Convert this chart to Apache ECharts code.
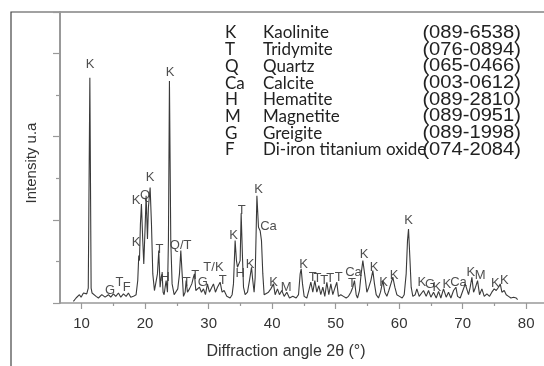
<!DOCTYPE html>
<html><head><meta charset="utf-8">
<script src="https://cdn.jsdelivr.net/npm/echarts@6/dist/echarts.min.js"></script>
<style>html,body{margin:0;padding:0;background:#fff}#c{width:544px;height:366px}</style>
</head><body><div id="c"></div>
<script>
const twoTheta = [8.71,9.13,9.34,9.66,9.92,10.29,10.55,10.81,11.05,11.3,11.5,11.65,11.86,12.28,12.65,13.18,13.70,14.23,14.59,15.01,15.38,15.80,16.17,16.59,17.01,17.37,17.74,18.16,18.58,18.84,19.00,19.11,19.26,19.42,19.63,19.79,20.00,20.16,20.37,20.52,20.79,21.00,21.21,21.47,21.73,21.94,22.15,22.36,22.52,22.68,22.83,22.99,23.15,23.31,23.52,23.67,23.83,24.04,24.25,24.57,24.88,25.14,25.41,25.62,25.83,26.04,26.30,26.46,26.67,26.98,27.35,27.61,27.77,27.98,28.24,28.56,28.87,29.19,29.50,29.81,30.13,30.50,30.76,31.07,31.39,31.81,32.12,32.44,32.86,33.38,33.70,33.91,34.17,34.38,34.54,34.75,34.96,35.12,35.33,35.49,35.75,36.12,36.43,36.75,36.95,37.16,37.32,37.45,37.6,37.85,38.11,38.32,38.53,38.74,39.05,39.42,39.79,40.21,40.47,40.84,41.15,41.52,41.89,42.31,42.73,43.25,43.78,44.15,44.41,44.57,44.78,45.04,45.46,45.77,46.09,46.40,46.72,47.03,47.35,47.66,47.98,48.29,48.61,48.92,49.24,49.55,49.92,50.18,50.44,50.81,51.23,51.65,52.02,52.39,52.70,52.96,53.23,53.44,53.75,54.01,54.28,54.49,54.70,54.91,55.22,55.54,55.85,56.11,56.38,56.74,57.06,57.43,57.74,58.06,58.37,58.69,59.00,59.32,59.63,60.05,60.47,60.79,61.10,61.31,61.47,61.68,61.89,62.15,62.52,62.78,63.15,63.41,63.83,64.25,64.62,64.99,65.41,65.83,66.20,66.56,66.98,67.40,67.77,68.14,68.56,68.93,69.19,69.61,70.03,70.40,70.66,70.92,71.18,71.45,71.71,72.02,72.34,72.65,73.02,73.39,73.81,74.23,74.59,74.96,75.28,75.64,75.91,76.17,76.54,76.85,77.22,77.59,78.01,78.43,78.64];
const intensity = [2,6,4,10,7,12,10,11,18,271,18,12,10,8,6,10,7,10,7,11,8,12,7,11,8,12,7,8,10,27,57,51,95,119,75,47,91,129,77,115,139,95,35,15,13,35,63,19,31,35,13,10,19,27,13,75,267,75,23,10,8,17,35,63,35,8,13,27,13,17,23,31,35,15,13,19,13,17,10,23,13,19,23,13,19,25,13,15,8,6,10,23,75,51,43,41,51,108,55,19,10,13,27,43,27,13,30,75,129,91,87,75,35,10,8,13,17,23,10,17,10,15,8,13,6,8,6,10,35,41,23,8,6,15,25,13,27,13,21,10,19,8,25,10,23,10,19,25,8,10,8,6,8,13,19,27,10,6,15,35,51,49,27,13,19,27,39,23,10,6,13,27,13,8,15,23,31,19,10,8,6,10,35,75,89,55,19,8,10,17,8,9,15,8,15,7,13,6,14,6,17,7,13,6,15,19,8,6,15,23,25,10,19,31,13,19,27,10,17,8,11,8,13,17,15,19,23,13,15,10,8,6,7,6,4];

const peakText = ['K','K','G','T','F','K','K','Q','K','T','H','Q/T','T','T','G','T/K','T','K','H','T','K','K','Ca','K','M','K','T','T','T','T','T','Ca','T','K','K','K','K','K','K','G','K','K','Ca','K','M','K','K'];
const peakX = [11.34,23.94,14.49,15.96,17.11,18.58,18.58,20.0,20.79,22.25,23.15,25.6,26.56,27.87,29.08,30.76,32.23,33.91,34.96,35.22,36.54,37.85,39.42,40.21,42.2,44.93,46.4,47.14,48.19,49.13,50.5,52.81,52.55,54.49,56.06,57.53,59.21,61.47,63.57,64.88,65.93,67.5,69.34,71.29,72.76,75.12,76.54];
const peakY = [287,277,15,25,19,73,123,129,151,65,31,69,25,33,25,43,27,81,35,111,47,137,92,25,19,47,31,30,27,30,31,37,23,59,43,25,33,99,25,22,19,22,25,37,33,23,27];

const legendSymbols = ['K','T','Q','Ca','H','M','G','F'];
const legendNames = ['Kaolinite','Tridymite','Quartz','Calcite','Hematite','Magnetite','Greigite','Di-iron titanium oxide'];
const legendCodes = ['(089-6538)','(076-0894)','(065-0466)','(003-0612)','(089-2810)','(089-0951)','(089-1998)','(074-2084)'];

const xTicks = [10,20,30,40,50,60,70,80];
const xMinorTicks = [15,25,35,45,55,65,75];

const chart = echarts.init(document.getElementById('c'), null, {renderer:'canvas'});
const graphics = [{type:'polyline', z:0, shape:{points:[[11,366],[11,12],[544,12]]}, style:{stroke:'#444', lineWidth:1.2, fill:null}}];
legendSymbols.forEach((s,i)=>{
  const y = 33 + i*16.7;
  graphics.push({type:'text', x:225, y:y, style:{text:s, font:'17px Lato', fill:'#222', textVerticalAlign:'middle', textAlign:'left'}});
  graphics.push({type:'text', x:263, y:y, style:{text:legendNames[i], font:'17px Lato', fill:'#222', textVerticalAlign:'middle', textAlign:'left'}});
  graphics.push({type:'text', x:521, y:y, scaleX:1.12, style:{text:legendCodes[i], font:'18px "Liberation Sans"', fill:'#222', textVerticalAlign:'middle', textAlign:'right'}});
});

chart.setOption({
  animation:false,
  backgroundColor:'#fff',
  grid:{left:60, right:0, top:12, bottom:63},
  xAxis:[{
    type:'value', min:6.6, max:82.8,
    axisLine:{show:true, lineStyle:{color:'#999', width:1.5}},
    axisTick:{show:true, customValues:xTicks, length:6, lineStyle:{color:'#999', width:1.2}},
    axisLabel:{show:true, customValues:xTicks, fontSize:15, color:'#333', margin:13, fontFamily:'Liberation Sans'},
    splitLine:{show:false},
    name:'Diffraction angle 2θ (°)', nameLocation:'middle', nameGap:41,
    nameTextStyle:{fontSize:16, color:'#333', fontFamily:'Liberation Sans', padding:[0,32,0,0]}
  },{
    type:'value', min:6.6, max:82.8, position:'bottom',
    axisLine:{show:false},
    axisTick:{show:true, customValues:xMinorTicks, length:3, lineStyle:{color:'#999', width:1.2}},
    axisLabel:{show:false}, splitLine:{show:false}
  }],
  yAxis:{
    type:'value', min:0, max:350, interval:100,
    axisLine:{show:true, lineStyle:{color:'#999', width:2}},
    axisTick:{show:true, length:7, lineStyle:{color:'#999', width:1.2}},
    minorTick:{show:true, splitNumber:2, length:4, lineStyle:{color:'#999', width:1.2}},
    axisLabel:{show:false}, splitLine:{show:false},
    name:'Intensity u.a', nameLocation:'middle', nameGap:21,
    nameTextStyle:{fontSize:15, color:'#333', fontFamily:'Liberation Sans', padding:[0,11,0,0]}
  },
  series:[{
    type:'line', xAxisIndex:0, showSymbol:false, symbol:'none',
    data: twoTheta.map((x,i)=>[x,intensity[i]]),
    lineStyle:{color:'#3a3a3a', width:1.1}
  },{
    type:'scatter', xAxisIndex:0, symbolSize:1,
    itemStyle:{color:'rgba(0,0,0,0)'},
    data: peakX.map((x,i)=>({name:peakText[i], value:[x,peakY[i]]})),
    label:{show:true, position:'inside', formatter:'{b}', fontSize:13, color:'#222', fontFamily:'Liberation Sans'},
    emphasis:{disabled:true}
  }],
  graphic: graphics
});
</script>
</body></html>
